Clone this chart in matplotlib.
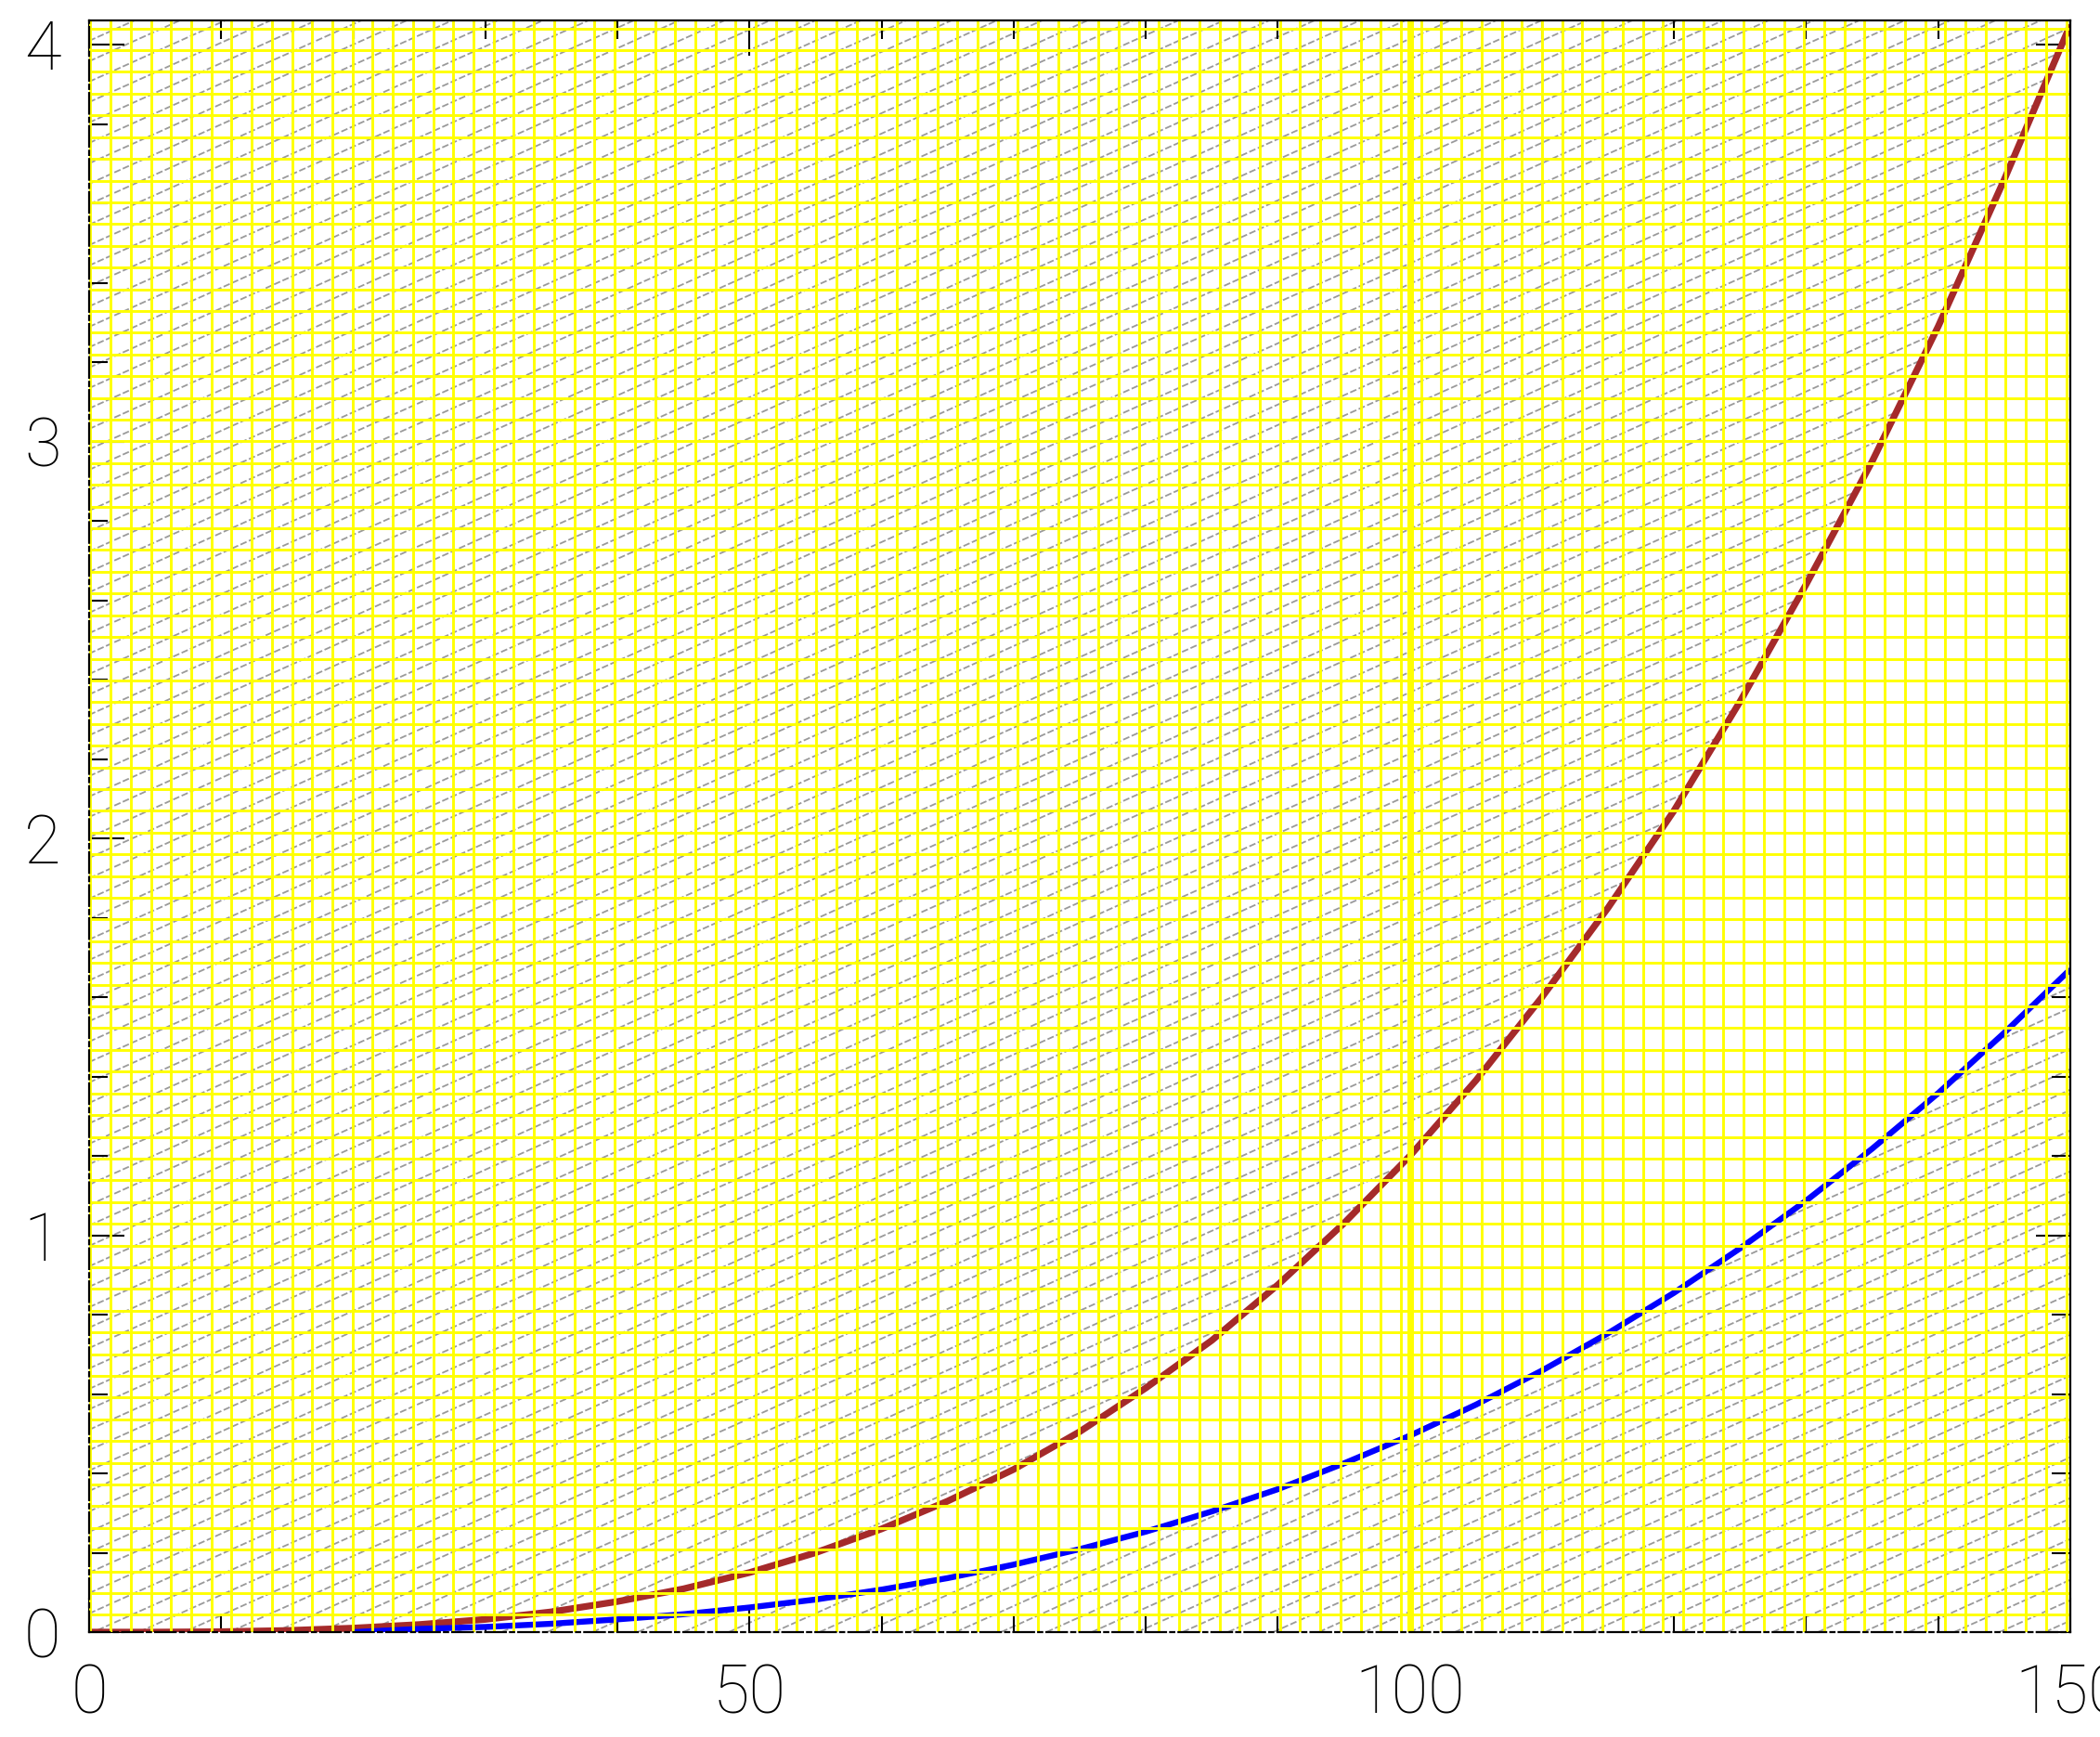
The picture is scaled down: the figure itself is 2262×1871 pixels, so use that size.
import numpy as np
import matplotlib
matplotlib.use("Agg")
import matplotlib.pyplot as plt
from matplotlib.collections import LineCollection

# ---------------- data ----------------
x_red = [0, 5, 10, 15, 20, 25, 30, 35, 40, 45, 50, 55, 60, 65, 70, 75,
         80, 85, 90, 95, 100, 105, 110, 115, 120, 125, 130, 135, 140, 145, 150]
y_red = [0.0, 0.0, 0.001, 0.004, 0.010, 0.019, 0.032, 0.051, 0.077, 0.109,
         0.150, 0.200, 0.260, 0.330, 0.410, 0.505, 0.615, 0.735, 0.875, 1.030,
         1.200, 1.390, 1.600, 1.825, 2.070, 2.345, 2.640, 2.950, 3.290, 3.660, 4.050]

x_blue = [20, 25, 30, 35, 40, 45, 50, 55, 60, 65, 70, 75, 80, 85, 90, 95,
          100, 105, 110, 115, 120, 125, 130, 135, 140, 145, 150]
y_blue = [0.0, 0.008, 0.013, 0.021, 0.032, 0.045, 0.062, 0.082, 0.107, 0.136,
          0.170, 0.209, 0.253, 0.304, 0.360, 0.425, 0.495, 0.573, 0.659, 0.753,
          0.855, 0.967, 1.087, 1.218, 1.358, 1.510, 1.670]

x_marker_line = 100
x_major_ticks = [0, 50, 100, 150]
x_tick_labels = ["0", "50", "100", "150"]
y_major_ticks = [0, 1, 2, 3, 4]
y_tick_labels = ["0", "1", "2", "3", "4"]
x_lim = (0, 150)
y_lim = (0, 4.061)

# ---------------- figure ----------------
W, H, DPI = 2262, 1871, 100
fig = plt.figure(figsize=(W / DPI, H / DPI), dpi=DPI)
fig.patch.set_facecolor("white")
ax_l, ax_r, ax_t, ax_b = 96, 2230, 22, 1758
ax = fig.add_axes([ax_l / W, 1 - ax_b / H, (ax_r - ax_l) / W, (ax_b - ax_t) / H])
ax.set_facecolor("white")
ax.set_xlim(*x_lim)
ax.set_ylim(*y_lim)

# gray diagonal hatch over the whole plotting area (axes-fraction coords)
pw, ph = ax_r - ax_l, ax_b - ax_t
slope_px = 0.45
spacing_px = 22.0
n_lines = int((ph + pw * slope_px) / spacing_px) + 2
segs = []
for k in range(n_lines):
    y0 = (ph - k * spacing_px) / ph
    y1 = y0 + pw * slope_px / ph
    segs.append([(0, y0), (1, y1)])
hatch = LineCollection(segs, colors="#9a9a9a", linewidths=1.3,
                       linestyles=(0, (4, 1.5)), transform=ax.transAxes, zorder=1)
ax.add_collection(hatch)

# white band between the two curves (no hatch there)
xb = np.array(x_blue, dtype=float)
red_on_blue = np.interp(xb, x_red, y_red)
ax.fill_between(xb, y_blue, red_on_blue, color="white", lw=0, zorder=2)

# curves
ax.plot(x_red, y_red, color="#a52a2a", lw=5.2, solid_capstyle="butt", zorder=3)
ax.plot(x_blue, y_blue, color="#0000ff", lw=4.6, solid_capstyle="butt", zorder=3)

# yellow grid on top
gx = np.linspace(0.0007, 0.9979, 99)
gy = np.linspace(0.01066, 0.995, 74)
vsegs = [[(v, 0), (v, 1)] for v in gx]
hsegs = [[(0, h), (1, h)] for h in gy]
ax.add_collection(LineCollection(vsegs + hsegs, colors="#ffff00", linewidths=2.1,
                                 transform=ax.transAxes, zorder=4))
ax.axvline(x_marker_line, color="#ffff00", lw=5.0, zorder=5)

# spines
for s in ["top", "right", "left", "bottom"]:
    ax.spines[s].set_color("black")
    ax.spines[s].set_linewidth(1.6)
    ax.spines[s].set_zorder(6)
ax.spines["left"].set_linestyle((0, (10, 2, 2, 2)))
ax.spines["bottom"].set_linestyle((0, (10, 2, 2, 2)))

# ticks
ax.set_xticks(x_major_ticks)
ax.set_xticklabels(x_tick_labels)
ax.set_yticks(y_major_ticks)
ax.set_yticklabels(y_tick_labels)
ax.set_xticks(np.arange(0, 151, 10), minor=True)
ax.set_yticks(np.arange(0, 4.01, 0.2), minor=True)
ax.tick_params(which="both", direction="in", top=True, right=True,
               color="black", width=1.5, zorder=7)
ax.tick_params(which="major", length=27)
ax.tick_params(which="minor", length=14.4)
ax.tick_params(axis="y", which="major", pad=22)
ax.tick_params(axis="x", which="major", pad=24)
for lab in ax.get_xticklabels() + ax.get_yticklabels():
    lab.set_fontfamily(["Roboto", "DejaVu Sans"])
    lab.set_fontweight(200)
    lab.set_fontsize(52)
    lab.set_color("black")

fig.savefig("out.png", dpi=DPI)
